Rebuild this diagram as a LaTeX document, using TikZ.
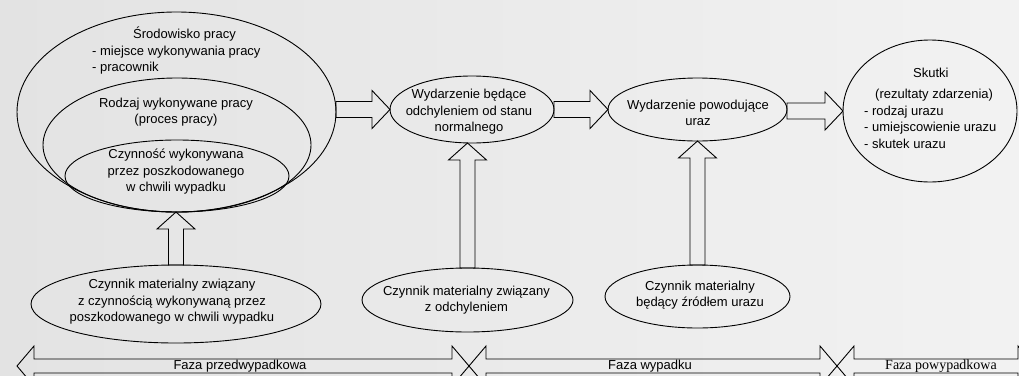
\documentclass[tikz,border=0pt]{standalone}
\usepackage{fontspec}
\setmainfont{Liberation Sans}
\newfontfamily\timesfont{Liberation Serif}
\usetikzlibrary{shapes.geometric}
\usetikzlibrary{calc}

\tikzset{
  oval/.style={draw, ellipse, inner sep=0pt, outer sep=0pt, line width=0.9pt},
  txt/.style={font=\fontsize{13pt}{16.5pt}\selectfont, inner sep=0pt, align=center},
  blockarrow/.style={draw, line width=0.9pt, line join=miter},
}

% block arrow pointing right, from #1 to the tip #2
\newcommand{\rightblock}[2]{%
  \draw[blockarrow] let \p1=(#1), \p2=(#2) in
    (\x1,\y2+8pt) -- (\x2-18pt,\y2+8pt) -- (\x2-18pt,\y2+19pt) -- (\x2,\y2)
    -- (\x2-18pt,\y2-19pt) -- (\x2-18pt,\y2-8pt) -- (\x1,\y2-8pt) -- cycle;}
% block arrow pointing up, from #1 to the tip #2
\newcommand{\upblock}[2]{%
  \draw[blockarrow] let \p1=(#1), \p2=(#2) in
    (\x1-7.5pt,\y1) -- (\x1-7.5pt,\y2-17pt) -- (\x1-19pt,\y2-17pt) -- (\x1,\y2)
    -- (\x1+19pt,\y2-17pt) -- (\x1+7.5pt,\y2-17pt) -- (\x1+7.5pt,\y1) -- cycle;}
% phase band with heads at both ends
\newcommand{\phaseband}[2]{%
  \draw[blockarrow] (#1,366) -- (#1+17,346) -- (#1+17,359) -- (#2-17,359) -- (#2-17,346)
    -- (#2,366) -- (#2-17,386) -- (#2-17,373) -- (#1+17,373) -- (#1+17,386) -- cycle;}

\begin{document}
\begin{tikzpicture}[x=1pt,y=-1pt]
\clip (0,0) rectangle (1019,375);
\shade[left color=black!11, right color=black!5] (0,0) rectangle (1019,375);

\node[oval, minimum width=319pt, minimum height=200pt] (env) at (176.5,112) {};
\node[oval, minimum width=268pt, minimum height=134pt] (proc) at (177,145) {};
\node[oval, minimum width=224pt, minimum height=72pt] (act) at (177,176) {};
\node[oval, minimum width=164pt, minimum height=67pt] (dev) at (472,109.5) {};
\node[oval, minimum width=179pt, minimum height=63pt] (inj) at (697.5,109.5) {};
\node[oval, minimum width=174pt, minimum height=142pt] (eff) at (930,111) {};
\node[oval, minimum width=290pt, minimum height=78pt] (mat1) at (176,304) {};
\node[oval, minimum width=211pt, minimum height=64pt] (mat2) at (467.5,300) {};
\node[oval, minimum width=185pt, minimum height=63pt] (mat3) at (697.5,296.5) {};

\node[txt, anchor=west, align=left] (envtxt) at (92,51) {\hspace*{41pt}Środowisko pracy\\- miejsce wykonywania pracy\\- pracownik};
\node[txt] (proctxt) at (176,112) {Rodzaj wykonywane pracy\\(proces pracy)};
\node[txt] (acttxt) at (176,172) {Czynność wykonywana\\przez poszkodowanego\\w chwili wypadku};
\node[txt] (devtxt) at (469,112) {Wydarzenie będące\\odchyleniem od stanu\\normalnego};
\node[txt] (injtxt) at (698,113) {Wydarzenie powodujące\\uraz};
\node[txt, anchor=west, align=left] (efftxt) at (864,108) {\hspace*{49pt}Skutki\\[5pt]\hspace*{11pt}(rezultaty zdarzenia)\\- rodzaj urazu\\- umiejscowienie urazu\\- skutek urazu};
\node[txt] (mat1txt) at (172,302) {Czynnik materialny związany\\z czynnością wykonywaną przez\\poszkodowanego w chwili wypadku};
\node[txt] (mat2txt) at (466.5,300) {Czynnik materialny związany\\z odchyleniem};
\node[txt] (mat3txt) at (700,295) {Czynnik materialny\\będący źródłem urazu};

\rightblock{env.east}{dev.west}
\rightblock{dev.east}{inj.west}
\rightblock{inj.east}{eff.west}
\upblock{mat1.north}{act.south}
\upblock{mat2.north}{dev.south}
\upblock{mat3.north}{inj.south}

\phaseband{17}{469}
\phaseband{469}{837}
\phaseband{837}{1035}
\node[txt] (pre) at (240,366) {Faza przedwypadkowa};
\node[txt] (acc) at (650,366) {Faza wypadku};
\node[txt, font=\timesfont\fontsize{14pt}{16pt}\selectfont] (post) at (941,366) {Faza powypadkowa};

\end{tikzpicture}
\end{document}
